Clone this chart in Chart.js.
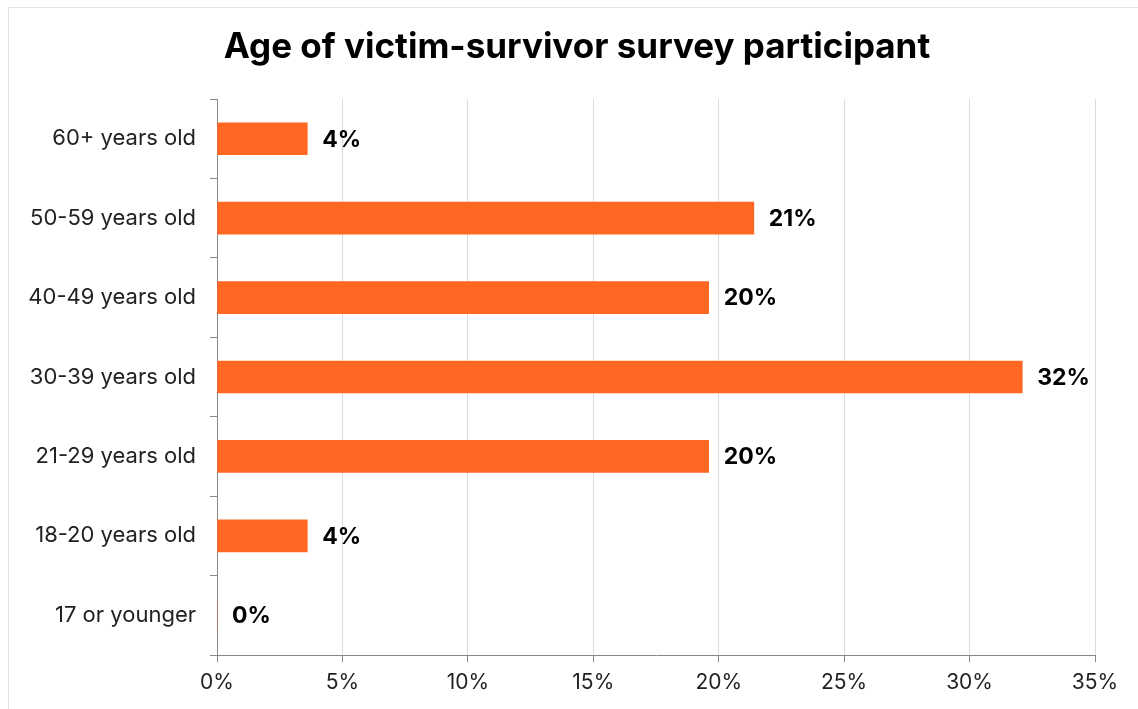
<!DOCTYPE html>
<html>
<head>
<meta charset="utf-8">
<script src="https://cdn.jsdelivr.net/npm/chart.js@4.4.1/dist/chart.umd.min.js"></script>
<style>
    html, body { margin: 0; padding: 0; background: #fff; overflow: hidden; }
    #frame { position: absolute; left: 8px; top: 7px; width: 1140px; height: 720px; border: 1px solid #e3e3e3; }
    #wrap { position: absolute; left: 0; top: 0; width: 1138px; height: 709px; }
</style>
</head>
<body>
<div id="frame"></div>
<div id="wrap"><canvas id="age-chart" width="1138" height="709"></canvas></div>
<script>
const chartTitle = 'Age of victim-survivor survey participant'
const categories = ['60+ years old', '50-59 years old', '40-49 years old', '30-39 years old', '21-29 years old', '18-20 years old', '17 or younger']
const shares = [3.6, 21.4, 19.6, 32.1, 19.6, 3.6, 0]
const shareLabels = ['4%', '21%', '20%', '32%', '20%', '4%', '0%']
const xTicks = [0, 5, 10, 15, 20, 25, 30, 35]

const fontName = 'Inter, "Noto Sans", sans-serif'

// bold percentage next to each bar
const barLabels = {
    id: 'barLabels',
    afterDatasetsDraw(chart) {
        let ctx = chart.ctx
        let meta = chart.getDatasetMeta(0)
        ctx.save()
        ctx.font = 'bold 23px ' + fontName
        ctx.fillStyle = '#000'
        ctx.textAlign = 'left'
        ctx.textBaseline = 'middle'
        meta.data.forEach(function(bar, i) {
            ctx.fillText(shareLabels[i], bar.x + 15, bar.y + 1)
        })
        ctx.restore()
    }
}

// title sits a bit right of the canvas centre in the original
const centredTitle = {
    id: 'centredTitle',
    afterDraw(chart) {
        let ctx = chart.ctx
        ctx.save()
        ctx.font = 'bold 35px ' + fontName
        ctx.fillStyle = '#000'
        ctx.textAlign = 'center'
        ctx.textBaseline = 'middle'
        ctx.fillText(chartTitle, 577, 47)
        ctx.restore()
    }
}

let ctx = document.getElementById('age-chart').getContext('2d')
new Chart(ctx, {
    type: 'bar',
    data: {
        labels: categories,
        datasets: [{
            data: shares,
            backgroundColor: '#ff6723',
            borderWidth: 0,
            barThickness: 32
        }]
    },
    plugins: [barLabels, centredTitle],
    options: {
        indexAxis: 'y',
        responsive: false,
        animation: false,
        layout: {
            padding: { left: 0, right: 43, top: 99, bottom: 0 }
        },
        plugins: {
            legend: { display: false },
            tooltip: { enabled: false },
            title: { display: false }
        },
        scales: {
            x: {
                min: 0,
                max: 35,
                afterFit(scale) {
                    scale.height = 54
                    scale.paddingRight = 0
                    scale.paddingLeft = 0
                },
                afterBuildTicks(scale) {
                    scale.ticks = xTicks.map(v => ({ value: v }))
                },
                ticks: {
                    color: '#222',
                    font: { family: fontName, size: 21 },
                    padding: 8,
                    maxRotation: 0,
                    callback: v => v + '%'
                },
                grid: {
                    color: '#dcdcdc',
                    tickColor: '#888',
                    tickLength: 7,
                    lineWidth: 1
                },
                border: { color: '#888', width: 1 }
            },
            y: {
                afterFit(scale) {
                    scale.width = 217
                    scale.paddingTop = 0
                    scale.paddingBottom = 0
                },
                ticks: {
                    color: '#222',
                    font: { family: fontName, size: 22 },
                    padding: 14
                },
                grid: {
                    offset: true,
                    drawOnChartArea: false,
                    tickColor: '#888',
                    tickLength: 7
                },
                border: { color: '#888', width: 1 }
            }
        }
    }
})
</script>
</body>
</html>
